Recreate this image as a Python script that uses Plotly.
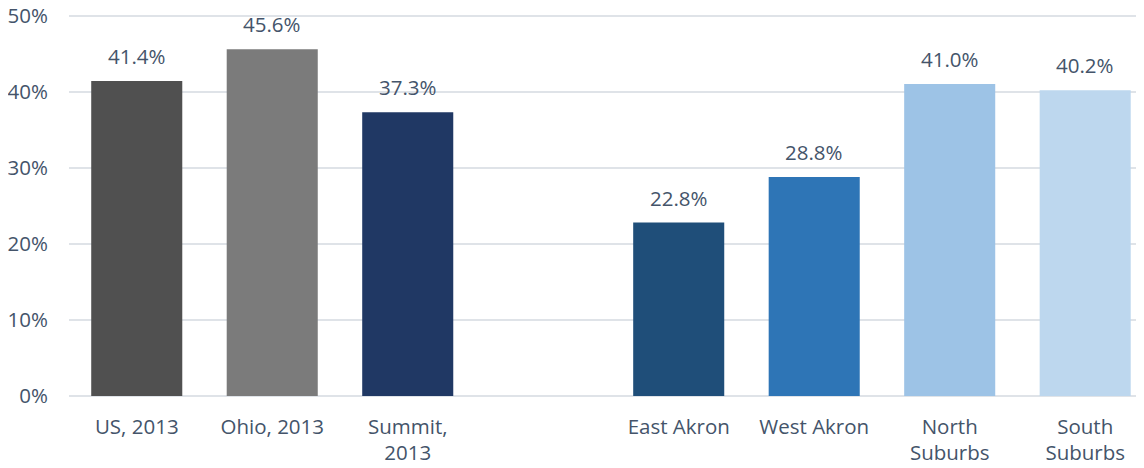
import plotly.graph_objects as go

categories = ["US, 2013", "Ohio, 2013", "Summit,<br>2013", " ", "East Akron", "West Akron", "North<br>Suburbs", "South<br>Suburbs"]
values = [41.4, 45.6, 37.3, None, 22.8, 28.8, 41.0, 40.2]
colors = ["#505050", "#7b7b7b", "#203864", "#ffffff", "#1f4e79", "#2e75b6", "#9dc3e6", "#bdd7ee"]
y_ticks = [0, 10, 20, 30, 40, 50]

TEXT = "#44546a"
FONT = "Open Sans"
FS = 20.5

fig = go.Figure()
fig.add_trace(go.Bar(x=categories, y=values, marker=dict(color=colors, line=dict(width=0)),
                     width=0.672, hoverinfo="skip"))

for c, v in zip(categories, values):
    if v is None:
        continue
    fig.add_annotation(x=c, y=v, text=f"{v:.1f}%", showarrow=False, yanchor="bottom",
                       yshift=9, font=dict(family=FONT, size=FS, color=TEXT))

# page body has an 8px margin, so offsets are compensated here
fig.update_layout(
    width=1144, height=468,
    margin=dict(l=61, r=8, t=5, b=80, autoexpand=False),
    paper_bgcolor="white", plot_bgcolor="white",
    showlegend=False,
    font=dict(family=FONT, size=FS, color=TEXT),
)
fig.update_xaxes(type="category", range=[-0.5, 7.434], showgrid=False, showline=False,
                 automargin=False, ticks="", tickfont=dict(family=FONT, size=FS, color=TEXT),
                 ticklabelstandoff=16)
fig.update_yaxes(range=[0, 50.35], tickvals=y_ticks, ticktext=[f"{t}%" for t in y_ticks],
                 automargin=False, showgrid=True, gridcolor="#dfe3e8", gridwidth=1.5, zeroline=True,
                 zerolinecolor="#dfe3e8", zerolinewidth=1.5, showline=False, ticks="",
                 ticklabeloverflow="allow",
                 tickfont=dict(family=FONT, size=FS, color=TEXT), ticklabelstandoff=20)

fig.write_html("out.html")
